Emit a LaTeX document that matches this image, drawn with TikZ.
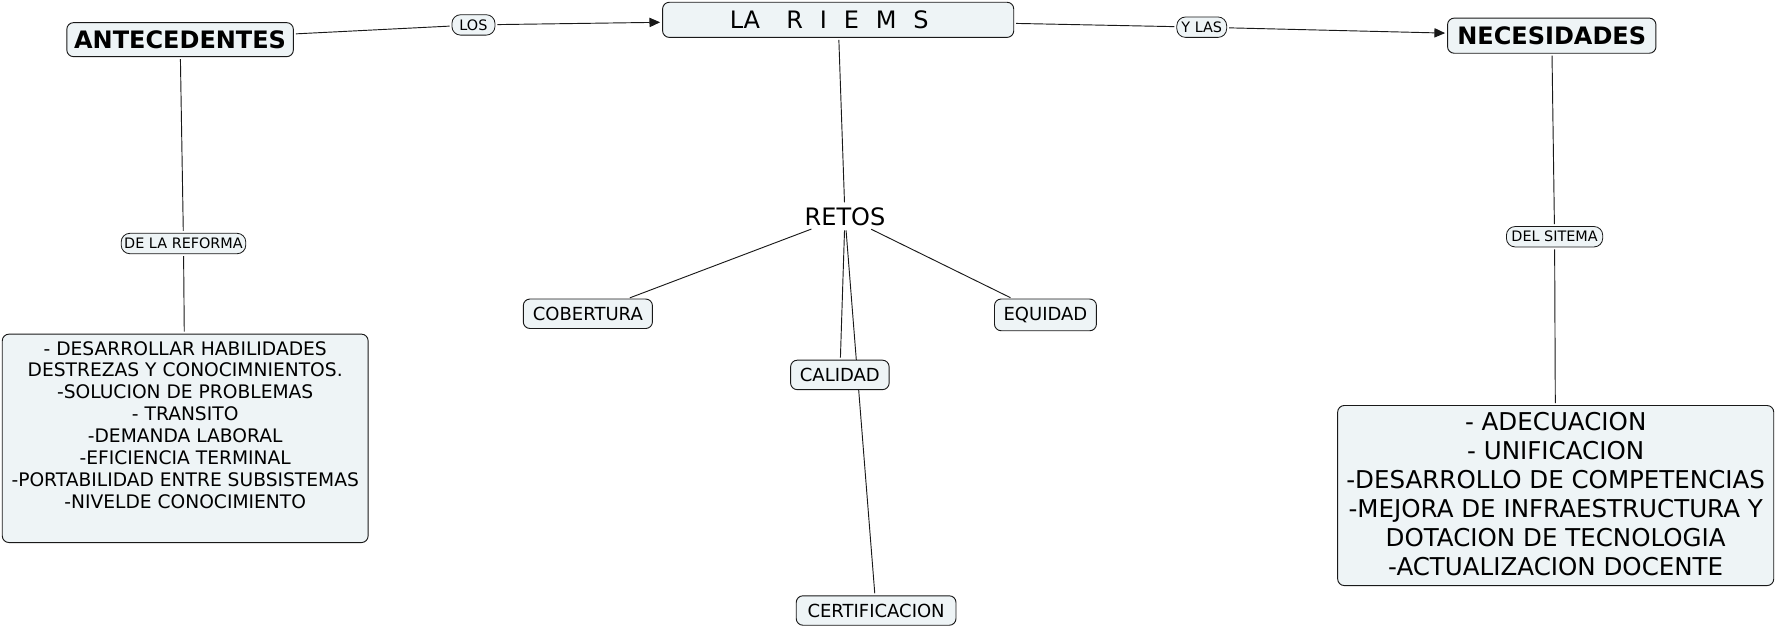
\documentclass[tikz,border=0pt]{standalone}
\usepackage{fontspec}
\setmainfont{DejaVu Sans}
\usetikzlibrary{arrows.meta,backgrounds}
\newcommand*\spx{0.8495pt}
\definecolor{boxfill}{RGB}{238,244,246}
\definecolor{edgecol}{RGB}{25,25,25}
\tikzset{
  concept/.style={draw=edgecol, line width=0.7pt, fill=boxfill, rounded corners=5pt, inner sep=0pt, align=center},
  midfont/.style={font=\fontsize{13.5}{16}\selectfont},
  bigfont/.style={font=\fontsize{18}{21}\selectfont},
  boldfont/.style={font=\bfseries\fontsize{18}{21}\selectfont},
  linkbox/.style={draw=edgecol, line width=0.6pt, fill=boxfill, rounded corners=6.5pt, inner sep=0pt, font=\fontsize{10.8}{13}\selectfont, minimum height=15.3pt},
  conn/.style={draw=edgecol, line width=0.7pt, shorten >=1.5pt, shorten <=1.5pt},
  arr/.style={conn, -{Triangle[length=8pt,width=7pt]}},
}
\begin{document}
\begin{tikzpicture}[x=\spx, y=-\spx]
\useasboundingbox (0,0) rectangle (1568,554);

% main concepts
\node[concept, boldfont, minimum width=200*\spx, minimum height=30*\spx] (ant) at (159,35) {ANTECEDENTES};
\node[concept, bigfont, minimum width=310*\spx, minimum height=31*\spx] (riems) at (740,17.5)
  {LA\hspace{1.1em}R\hspace{0.7em}I\hspace{0.7em}E\hspace{0.7em}M\hspace{0.7em}S\hspace{0.75em}};
\node[concept, boldfont, minimum width=184*\spx, minimum height=31*\spx] (nec) at (1370,31.5) {NECESIDADES};

% linking phrases
\node[linkbox, minimum width=38*\spx] (los) at (418,22) {LOS};
\node[linkbox, minimum width=44*\spx] (ylas) at (1061,24) {Y LAS};
\node[linkbox, minimum width=110*\spx] (ref) at (162,215) {DE LA REFORMA};
\node[linkbox, minimum width=85*\spx] (sit) at (1372.5,209) {DEL SITEMA};

% retos
\node[inner sep=2pt, bigfont] (retos) at (746,191) {RETOS};
\node[concept, midfont, minimum width=114*\spx, minimum height=26*\spx] (cob) at (519,277) {COBERTURA};
\node[concept, midfont, minimum width=90*\spx, minimum height=28*\spx] (equ) at (923,278) {EQUIDAD};
\node[concept, midfont, minimum width=87*\spx, minimum height=26*\spx] (cal) at (741.5,331) {CALIDAD};
\node[concept, midfont, minimum width=141*\spx, minimum height=26*\spx] (cert) at (773.5,539) {CERTIFICACION};

% big boxes
\node[concept, minimum width=323*\spx, minimum height=184*\spx] (lbox) at (163.5,387) {};
\node[anchor=north, inner sep=0pt, align=center, font=\fontsize{14}{16.4}\selectfont] (ltext) at (163.5,301)
  {- DESARROLLAR HABILIDADES\\DESTREZAS Y CONOCIMNIENTOS.\\-SOLUCION DE PROBLEMAS\\- TRANSITO\\-DEMANDA LABORAL\\-EFICIENCIA TERMINAL\\-PORTABILIDAD ENTRE SUBSISTEMAS\\-NIVELDE CONOCIMIENTO};
\node[concept, minimum width=385*\spx, minimum height=159*\spx] (rbox) at (1373.5,437.5) {};
\node[anchor=north, inner sep=0pt, align=center, font=\fontsize{18.4}{21.75}\selectfont] (rtext) at (1373.5,363.7)
  {- ADECUACION\\- UNIFICACION\\-DESARROLLO DE COMPETENCIAS\\-MEJORA DE INFRAESTRUCTURA Y\\DOTACION DE TECNOLOGIA\\-ACTUALIZACION DOCENTE};

% connectors
\begin{scope}[on background layer]
  \draw[conn] (ant) -- (los);
  \draw[arr] (los) -- (riems);
  \draw[conn] (riems) -- (ylas);
  \draw[arr] (ylas) -- (nec);
  \draw[conn] (ant) -- (ref);
  \draw[conn] (ref) -- (lbox);
  \draw[conn] (nec) -- (sit);
  \draw[conn] (sit) -- (rbox);
  \draw[conn] (riems) -- (retos);
  \draw[conn] (retos) -- (cob);
  \draw[conn] (retos) -- (equ);
  \draw[conn] (retos) -- (cal);
  \draw[conn] (retos) -- (cert);
\end{scope}
\end{tikzpicture}
\end{document}
